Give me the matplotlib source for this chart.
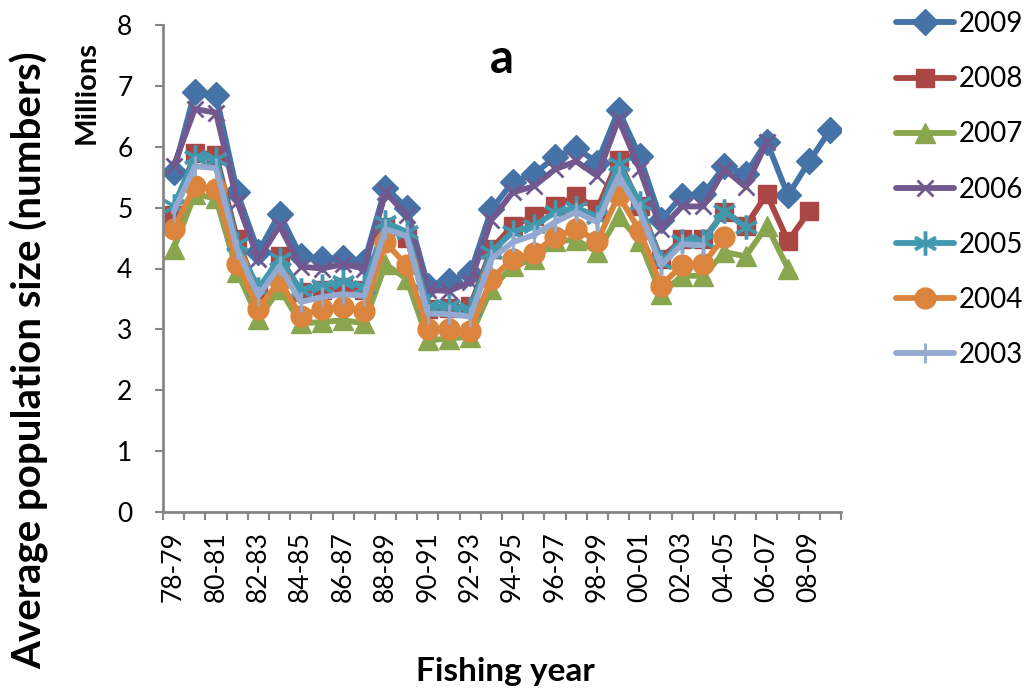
import matplotlib
matplotlib.use("Agg")
import matplotlib.pyplot as plt
import numpy as np

plt.rcParams['font.family'] = ['Lato', 'DejaVu Sans']

# fishing years 78-79 .. 09-10
years = ["78-79", "79-80", "80-81", "81-82", "82-83", "83-84", "84-85", "85-86",
         "86-87", "87-88", "88-89", "89-90", "90-91", "91-92", "92-93", "93-94",
         "94-95", "95-96", "96-97", "97-98", "98-99", "99-00", "00-01", "01-02",
         "02-03", "03-04", "04-05", "05-06", "06-07", "07-08", "08-09", "09-10"]

# average population size, millions, by assessment year
pop_2009 = [5.58, 6.90, 6.85, 5.25, 4.27, 4.90, 4.20, 4.15, 4.18, 4.10, 5.33, 5.00,
            3.72, 3.80, 3.92, 4.97, 5.42, 5.55, 5.83, 5.98, 5.74, 6.60, 5.84, 4.80,
            5.19, 5.22, 5.68, 5.55, 6.08, 5.20, 5.76, 6.28]
pop_2008 = [4.88, 5.90, 5.87, 4.48, 3.60, 4.20, 3.62, 3.65, 3.70, 3.65, 4.68, 4.50,
            3.34, 3.35, 3.38, 4.32, 4.70, 4.86, 5.02, 5.19, 4.98, 5.79, 5.03, 4.16,
            4.48, 4.48, 4.93, 4.70, 5.22, 4.45, 4.94]
pop_2007 = [4.32, 5.22, 5.15, 3.95, 3.17, 3.67, 3.10, 3.12, 3.15, 3.10, 4.07, 3.83,
            2.82, 2.85, 2.88, 3.67, 4.04, 4.15, 4.45, 4.47, 4.27, 4.86, 4.45, 3.58,
            3.88, 3.88, 4.27, 4.20, 4.70, 4.00]
pop_2006 = [5.68, 6.62, 6.56, 5.10, 4.15, 4.70, 4.03, 4.00, 4.07, 4.00, 5.25, 4.88,
            3.65, 3.63, 3.78, 4.80, 5.25, 5.35, 5.63, 5.76, 5.52, 6.45, 5.63, 4.65,
            5.02, 5.02, 5.63, 5.34, 6.08]
pop_2005 = [5.02, 5.83, 5.80, 4.40, 3.67, 4.16, 3.65, 3.72, 3.78, 3.70, 4.76, 4.60,
            3.38, 3.38, 3.33, 4.27, 4.60, 4.70, 4.92, 5.00, 4.85, 5.72, 5.08, 4.10,
            4.45, 4.45, 4.94, 4.68]
pop_2004 = [4.65, 5.35, 5.30, 4.08, 3.34, 3.80, 3.22, 3.34, 3.36, 3.30, 4.43, 4.05,
            3.00, 3.00, 2.98, 3.83, 4.16, 4.25, 4.52, 4.65, 4.45, 5.20, 4.62, 3.72,
            4.05, 4.08, 4.52]
pop_2003 = [4.93, 5.68, 5.65, 4.32, 3.55, 4.04, 3.45, 3.53, 3.58, 3.55, 4.65, 4.53,
            3.26, 3.25, 3.21, 4.16, 4.43, 4.55, 4.76, 4.93, 4.76, 5.52, 4.94, 4.05,
            4.40, 4.38]

# label, values, colour, marker, marker size, marker edge width
series = [
    ("2009", pop_2009, "#4572A7", "D", 13, 1.0),
    ("2008", pop_2008, "#AA4643", "s", 13, 1.0),
    ("2007", pop_2007, "#89A54E", "^", 15, 1.0),
    ("2006", pop_2006, "#71588F", "x", 12, 2.0),
    ("2005", pop_2005, "#4198AF", "$\\ast$", 17, 0.5),
    ("2004", pop_2004, "#DB843D", "o", 15, 1.0),
    ("2003", pop_2003, "#93A9CF", "|", 15, 2.0),
]

fig = plt.figure(figsize=(10.26, 6.98), dpi=100)
ax = fig.add_axes([163 / 1026, 1 - 512 / 698, (841 - 163) / 1026, (512 - 25) / 698])

x = np.arange(len(years))
for name, vals, col, mk, ms, mew in series:
    ax.plot(x[:len(vals)], vals, color=col, lw=4.2, marker=mk, markersize=ms,
            markeredgecolor=col, markerfacecolor=col, markeredgewidth=mew,
            solid_capstyle="round", solid_joinstyle="round", label=name)

ax.set_xlim(-0.5, len(years) - 0.5)
ax.set_ylim(0, 8)
ax.set_yticks(range(0, 9))
ax.tick_params(axis="y", labelsize=19, length=6, width=1.5, color="#868686", pad=16)

ax.set_xticks(x[::2])
ax.set_xticklabels(years[::2], rotation=90, fontsize=19)
ax.set_xticks(np.arange(-0.5, len(years)), minor=True)
ax.tick_params(axis="x", which="major", length=0, pad=14)
ax.tick_params(axis="x", which="minor", length=6, width=1.5, color="#868686")

for side in ("top", "right"):
    ax.spines[side].set_visible(False)
for side in ("left", "bottom"):
    ax.spines[side].set_color("#868686")
    ax.spines[side].set_linewidth(2)

ax.text(0.5, 0.93, "a", transform=ax.transAxes, ha="center", va="center",
        fontsize=34, fontweight="bold")

fig.text(30 / 1026, 1 - 360 / 698, "Average population size (numbers)", rotation=90,
         ha="center", va="center", fontsize=29, fontweight="bold")
fig.text(87 / 1026, 1 - 92 / 698, "Millions", rotation=90, ha="center", va="center",
         fontsize=21, fontweight="bold")
fig.text(505 / 1026, 1 - 672 / 698, "Fishing year", ha="center", va="center",
         fontsize=24, fontweight="bold")

ax.legend(loc="upper left", bbox_to_anchor=(885 / 1026, 1 - 0 / 698),
          bbox_transform=fig.transFigure, frameon=False, fontsize=20,
          handlelength=2.1, labelspacing=1.05, handletextpad=0.15, borderaxespad=0)

fig.savefig("out.png", dpi=100)
